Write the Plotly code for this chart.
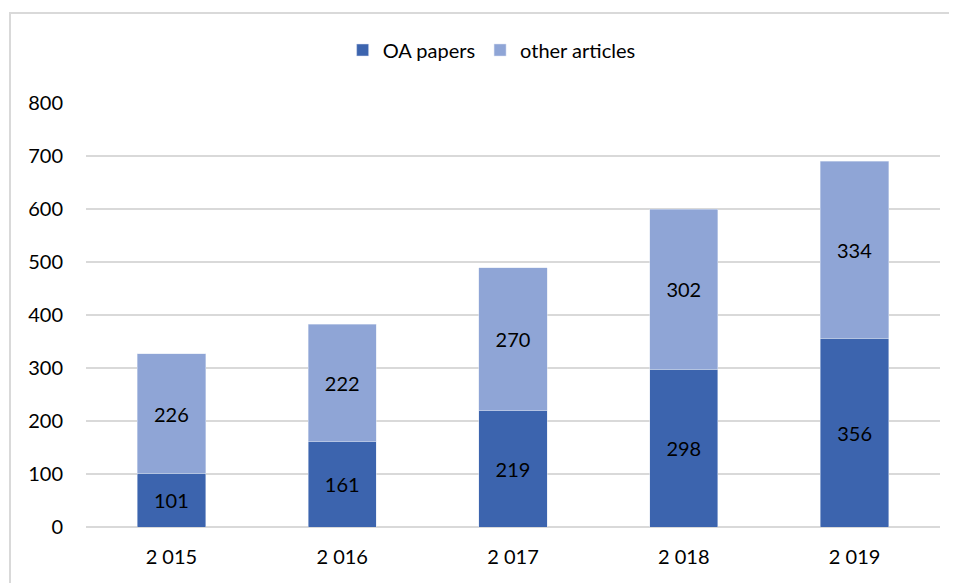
import plotly.graph_objects as go

years = ['2 015', '2 016', '2 017', '2 018', '2 019']
oa_papers = [101, 161, 219, 298, 356]
other_articles = [226, 222, 270, 302, 334]
y_ticks = [0, 100, 200, 300, 400, 500, 600, 700, 800]

font_family = 'Lato, "Open Sans", sans-serif'

fig = go.Figure()

fig.add_trace(go.Bar(
    x=years, y=oa_papers, name='OA papers',
    marker=dict(color='#3C64AE', line=dict(color='#DCE3F2', width=0.5)),
    text=oa_papers, textposition='inside', insidetextanchor='middle',
    textfont=dict(color='black', size=20, family=font_family),
))
fig.add_trace(go.Bar(
    x=years, y=other_articles, name='other articles',
    marker=dict(color='#8FA5D6', line=dict(color='#DCE3F2', width=0.5)),
    text=other_articles, textposition='inside', insidetextanchor='middle',
    textfont=dict(color='black', size=20, family=font_family),
))

# chart frame (left/top only visible in the picture)
fig.add_shape(type='rect', xref='paper', yref='paper',
              x0=-0.089, x1=1.2, y0=-0.3, y1=1.212,
              line=dict(color='#D9D9D9', width=2), layer='below')

fig.update_layout(
    barmode='stack',
    bargap=0.6,
    width=949, height=575,
    margin=dict(l=78, r=17, t=95, b=56),
    plot_bgcolor='white', paper_bgcolor='white',
    font=dict(family=font_family, size=20, color='black'),
    showlegend=True,
    legend=dict(orientation='h', x=0.475, xanchor='center', y=1.125, yanchor='middle',
                font=dict(size=20), traceorder='normal', itemwidth=30),
    uniformtext=dict(mode='show', minsize=20),
    xaxis=dict(showgrid=False, showline=False, ticks='', tickfont=dict(size=20),
               ticklabelstandoff=16),
    yaxis=dict(range=[0, 800], tickvals=y_ticks, showgrid=True, gridcolor='#D9D9D9',
               gridwidth=1.5, zeroline=True, zerolinecolor='#D9D9D9', zerolinewidth=1.5,
               ticks='', tickfont=dict(size=20), ticklabelstandoff=22),
)

fig.write_html('out.html')
